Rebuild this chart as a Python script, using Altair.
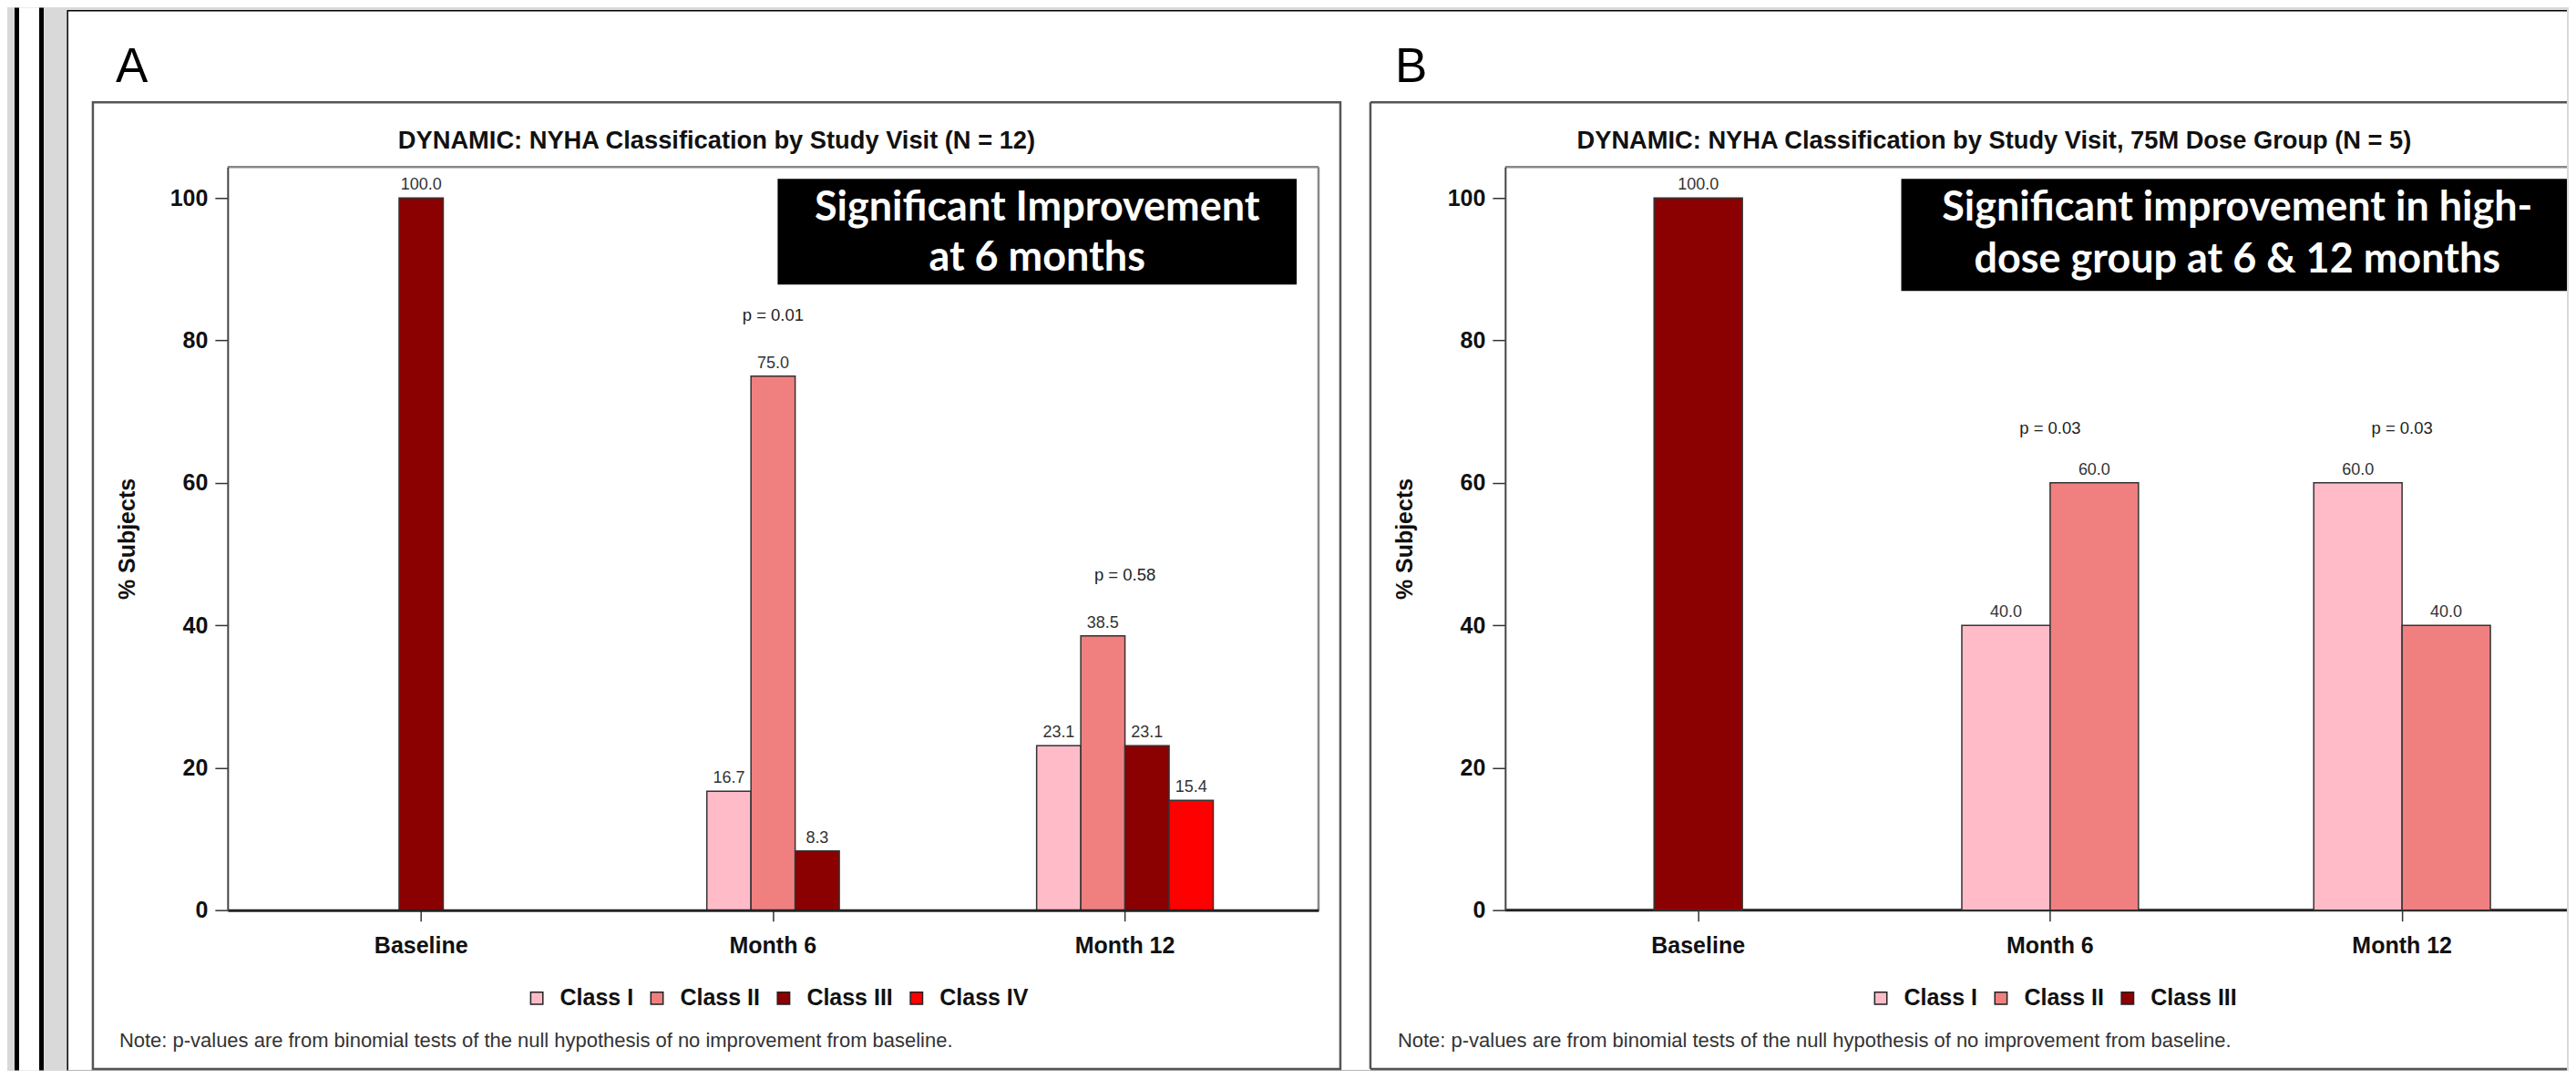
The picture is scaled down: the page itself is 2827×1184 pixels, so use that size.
import altair as alt
import pandas as pd

# ---------------- data ----------------
VISITS = ["Baseline", "Month 6", "Month 12"]
CLASSES = ["Class I", "Class II", "Class III", "Class IV"]
CLASS_COLORS = ["#FFBCC8", "#F08080", "#8B0000", "#FF0000"]

A_VISIT = ["Baseline", "Month 6", "Month 6", "Month 6",
           "Month 12", "Month 12", "Month 12", "Month 12"]
A_CLASS = ["Class III", "Class I", "Class II", "Class III",
           "Class I", "Class II", "Class III", "Class IV"]
A_PCT = [100.0, 16.7, 75.0, 8.3, 23.1, 38.5, 23.1, 15.4]
A_P_VISIT = ["Month 6", "Month 12"]
A_P_TEXT = ["p = 0.01", "p = 0.58"]

B_VISIT = ["Baseline", "Month 6", "Month 6", "Month 12", "Month 12"]
B_CLASS = ["Class III", "Class I", "Class II", "Class I", "Class II"]
B_PCT = [100.0, 40.0, 60.0, 60.0, 40.0]
B_P_VISIT = ["Month 6", "Month 12"]
B_P_TEXT = ["p = 0.03", "p = 0.03"]

A_TITLE = "DYNAMIC: NYHA Classification by Study Visit (N = 12)"
B_TITLE = "DYNAMIC: NYHA Classification by Study Visit, 75M Dose Group (N = 5)"
A_NOTE_LINES = ["Significant Improvement", "at 6 months"]
B_NOTE_LINES = ["Significant improvement in high-", "dose group at 6 & 12 months"]
FOOTNOTE = "Note: p-values are from binomial tests of the null hypothesis of no improvement from baseline."

FONT = "Liberation Sans"
BOXFONT = "Lato"
YMAX = 104.35
PLOT_H = 816


def bar_table(visit, cls, pct):
    df = pd.DataFrame({"visit": visit, "cls": cls, "pct": pct})
    idx = df.groupby("visit").cumcount()
    n = df.groupby("visit")["cls"].transform("count")
    df["slot"] = 2 * idx - (n - 1)
    return df


def p_table(df, pv, pt):
    top = df.groupby("visit")["pct"].max()
    return pd.DataFrame({"visit": pv, "p": pt, "pct": [top[v] for v in pv]})


ONE = pd.DataFrame({"k": [0]})


def rect(x, x2, y, y2, **kw):
    return alt.Chart(ONE).mark_rect(**kw).encode(
        x=alt.value(x), x2=alt.value(x2), y=alt.value(y), y2=alt.value(y2))


def hrule(x, x2, y, **kw):
    return alt.Chart(ONE).mark_rule(**kw).encode(
        x=alt.value(x), x2=alt.value(x2), y=alt.value(y))


def vrule(x, y, y2, **kw):
    return alt.Chart(ONE).mark_rule(**kw).encode(
        x=alt.value(x), y=alt.value(y), y2=alt.value(y2))


def label(x, y, s, **kw):
    return alt.Chart(ONE).mark_text(**kw).encode(
        x=alt.value(x), y=alt.value(y), text=alt.value(s))


def panel(df, pdf, classes, slot_domain, slot_pad, bar_w, width, xscale_kw,
          x_domain_line, legend_x, p_dy, before, after):
    n = len(classes)
    xs = alt.Scale(domain=VISITS, paddingInner=0, **xscale_kw)
    x = alt.X("visit:N", scale=xs, axis=alt.Axis(
        title=None, labelAngle=0, labelFont=FONT, labelFontSize=25,
        labelFontWeight="bold", labelColor="#111", labelPadding=15,
        tickSize=12, tickColor="#333", tickWidth=1.5, domain=x_domain_line,
        domainColor="#222", domainWidth=3, grid=False, zindex=1))
    xo = alt.XOffset("slot:O", scale=alt.Scale(
        domain=slot_domain, paddingInner=0, paddingOuter=slot_pad))
    y = alt.Y("pct:Q", scale=alt.Scale(domain=[0, YMAX], nice=False),
              axis=alt.Axis(
                  values=[0, 20, 40, 60, 80, 100], title="% Subjects",
                  titleFont=FONT, titleFontSize=25, titleFontWeight="bold",
                  titleColor="#111", titleAngle=270, titleX=-110, titleY=408,
                  titleAlign="center", titleBaseline="middle",
                  labelFont=FONT, labelFontSize=25, labelFontWeight="bold",
                  labelColor="#111", labelPadding=8, tickSize=14,
                  tickColor="#333", tickWidth=1.5, domainColor="#444",
                  domainWidth=2, grid=False, zindex=1))
    color = alt.Color("cls:N", scale=alt.Scale(domain=classes, range=CLASS_COLORS[:n]),
                      legend=alt.Legend(
                          title=None, orient="none", legendX=legend_x, legendY=900,
                          direction="horizontal", symbolType="square",
                          symbolSize=180, symbolStrokeColor="#222",
                          symbolStrokeWidth=1.5, labelFont=FONT, labelFontSize=25,
                          labelFontWeight="bold", labelColor="#111",
                          labelOffset=13, columnPadding=13))
    bars = alt.Chart(df).mark_bar(width=bar_w, stroke="#333", strokeWidth=1.5).encode(
        x=x, xOffset=xo, y=y, color=color)
    vals = alt.Chart(df).mark_text(baseline="alphabetic", dy=-9, font=FONT,
                                   fontSize=18, color="#333").encode(
        x=x, xOffset=xo, y=y, text=alt.Text("pct:Q", format=".1f"))
    ps = alt.Chart(pdf).mark_text(baseline="alphabetic", dy=p_dy, font=FONT,
                                  fontSize=18.5, color="#222").encode(
        x=x, y=y, text="p:N")
    return alt.layer(*before, bars, vals, ps, *after).properties(width=width, height=PLOT_H)


dfa = bar_table(A_VISIT, A_CLASS, A_PCT)
dfb = bar_table(B_VISIT, B_CLASS, B_PCT)
pa = p_table(dfa, A_P_VISIT, A_P_TEXT)
pb = p_table(dfb, B_P_VISIT, B_P_TEXT)

BOX_FS = 45
BOTTOM = 992      # bottom of the page area (relative to plot top)
FRAME_B = 990.5   # bottom line of the outer panel boxes

# ---- panel A decorations (coordinates relative to plot A origin) ----
A_W = 1198
a_before = [
    rect(-242, 2569, -175, BOTTOM, fill="#d9d9d9"),
    rect(-234, -229, -175, BOTTOM, fill="#000000"),
    rect(-207, -202, -175, BOTTOM, fill="#000000"),
    rect(-229, -207, -175, BOTTOM, fill="#ffffff"),
    rect(-176.5, 2569, -172.5, BOTTOM, fill="#000000"),
    rect(-175, 2569, -171, BOTTOM, fill="#ffffff"),
    rect(-148, 1222, -71, FRAME_B, fill="#ffffff", stroke="#555555", strokeWidth=2.5),
    label(-123, -93, "A", font=FONT, fontSize=53, align="left", baseline="alphabetic", color="#000"),
    label(537, -20, A_TITLE, font=FONT, fontSize=27.3, fontWeight="bold", align="center",
          baseline="alphabetic", color="#111"),
    hrule(0, A_W, 0, color="#888888", strokeWidth=2.5),
    vrule(A_W, 0, PLOT_H, color="#888888", strokeWidth=2.5),
    label(-119, 966, FOOTNOTE, font=FONT, fontSize=22, align="left", baseline="alphabetic", color="#333"),
]
a_after = [
    rect(604, 1174, 13, 129, fill="#000000"),
    label(889, 59, A_NOTE_LINES[0], font=BOXFONT, fontSize=BOX_FS, fontWeight="bold",
          align="center", baseline="alphabetic", color="#ffffff"),
    label(889, 114, A_NOTE_LINES[1], font=BOXFONT, fontSize=BOX_FS, fontWeight="bold",
          align="center", baseline="alphabetic", color="#ffffff"),
]

# ---- panel B decorations (coordinates relative to plot B origin) ----
B_W = 1166
b_before = [
    hrule(-148, B_W, -71, color="#555555", strokeWidth=2.5),
    vrule(-148, -71, FRAME_B, color="#555555", strokeWidth=2.5),
    hrule(-148, B_W, FRAME_B, color="#555555", strokeWidth=2.5),
    label(-121, -93, "B", font=FONT, fontSize=53, align="left", baseline="alphabetic", color="#000"),
    label(537, -20, B_TITLE, font=FONT, fontSize=27.3, fontWeight="bold", align="center",
          baseline="alphabetic", color="#111"),
    hrule(0, B_W, 0, color="#888888", strokeWidth=2.5),
    hrule(0, B_W, PLOT_H, color="#222222", strokeWidth=3),
    label(-118, 966, FOOTNOTE, font=FONT, fontSize=22, align="left", baseline="alphabetic", color="#333"),
]
b_after = [
    rect(435, B_W, 13, 136, fill="#000000"),
    label(804, 59, B_NOTE_LINES[0], font=BOXFONT, fontSize=BOX_FS, fontWeight="bold",
          align="center", baseline="alphabetic", color="#ffffff"),
    label(804, 116, B_NOTE_LINES[1], font=BOXFONT, fontSize=BOX_FS, fontWeight="bold",
          align="center", baseline="alphabetic", color="#ffffff"),
]

chart_a = panel(dfa, pa, CLASSES, list(range(-7, 8)), 0.468, 48.5, A_W,
                dict(paddingOuter=0.05), True, 327, -61, a_before, a_after)
chart_b = panel(dfb, pb, CLASSES[:3], list(range(-3, 4)), 0.485, 97, B_W,
                dict(range=[18.75, 1178.25], paddingOuter=0), False, 400, -54,
                b_before, b_after)

chart = alt.hconcat(chart_a, chart_b, spacing=205, bounds="flush", padding=0,
                    background="#d9d9d9").resolve_scale(
    color="independent", xOffset="independent").configure_view(strokeWidth=0)

chart.save("out.html", embed_options={"renderer": "svg", "actions": False})
